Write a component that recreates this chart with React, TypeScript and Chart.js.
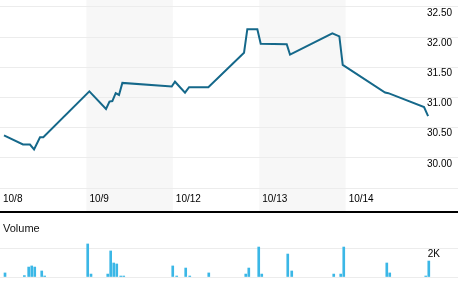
import React, { useEffect, useRef } from "react";
import { Chart, registerables } from "chart.js";

Chart.register(...registerables);

// ---- data ----
const dayLabels = ["10/8", "10/9", "10/12", "10/13", "10/14"];
const dayTicks = [0, 1, 2, 3, 4];
const shadedDays = [1, 3];

// time in trading-day units (day index + fraction of session)
const priceTimes = [
  0.046, 0.266, 0.347, 0.394, 0.463, 0.501, 1.034, 1.227, 1.267, 1.3, 1.339,
  1.377, 1.416, 1.987, 2.025, 2.141, 2.188, 2.411, 2.824, 2.862, 2.978, 3.017,
  3.318, 3.356, 3.846, 3.927, 3.966, 4.456, 4.494, 4.907, 4.954,
];
const priceValues = [
  30.37, 30.22, 30.22, 30.14, 30.34, 30.34, 31.1, 30.81, 30.93, 30.94, 31.07,
  31.04, 31.24, 31.18, 31.26, 31.08, 31.17, 31.17, 31.74, 32.13, 32.13, 31.89,
  31.88, 31.71, 32.06, 32.01, 31.54, 31.08, 31.07, 30.84, 30.69,
];

const volumeTimes = [
  0.058, 0.282, 0.332, 0.367, 0.402, 0.483, 0.517, 1.015, 1.053, 1.247, 1.281,
  1.316, 1.351, 1.397, 1.432, 1.999, 2.045, 2.149, 2.196, 2.416, 2.844, 2.879,
  2.994, 3.029, 3.33, 3.376, 3.862, 3.943, 3.978, 4.476, 4.51, 4.927, 4.962,
];
const volumeValues = [
  290, 100, 710, 790, 710, 430, 70, 2360, 210, 210, 1860, 1000, 930, 70, 70,
  790, 70, 640, 70, 290, 210, 640, 2140, 210, 1640, 430, 210, 210, 2140, 1000,
  290, 70, 1140,
];

const priceTicks = [29.5, 30, 30.5, 31, 31.5, 32, 32.5];
const volumeTicks = [0, 2000];
const volumeTickLabels = ["", "2K"];

const X_MIN = 0;
const X_MAX = 5.3;
const FONT = "'Liberation Sans', Arial, sans-serif";

const bandPlugin = {
  id: "bands",
  beforeDraw(chart: any) {
    const { ctx } = chart;
    const x = chart.scales.x;
    ctx.save();
    ctx.fillStyle = "#f7f7f7";
    shadedDays.forEach((d) => {
      const a = x.getPixelForValue(d);
      const b = x.getPixelForValue(d + 1);
      ctx.fillRect(a, 0, b - a, chart.height);
    });
    ctx.restore();
  },
};

const zeroFit = (s: any) => {
  if (!s.isHorizontal()) s.width = 0;
  s.paddingTop = 0;
  s.paddingBottom = 0;
  s.paddingLeft = 0;
  s.paddingRight = 0;
};

export default function App() {
  const priceRef = useRef<HTMLCanvasElement>(null);
  const volRef = useRef<HTMLCanvasElement>(null);

  useEffect(() => {
    const priceChart = new Chart(priceRef.current!, {
      type: "line",
      data: {
        datasets: [
          {
            data: priceTimes.map((t, i) => ({ x: t, y: priceValues[i] })),
            borderColor: "#15688a",
            borderWidth: 2,
            pointRadius: 0,
            tension: 0,
            fill: false,
          },
        ],
      },
      options: {
        responsive: false,
        animation: false,
        layout: { padding: { top: 0, bottom: 1, left: 0, right: 0 } },
        plugins: { legend: { display: false }, tooltip: { enabled: false } },
        scales: {
          x: {
            type: "linear",
            min: X_MIN,
            max: X_MAX,
            grid: { display: false, drawTicks: false },
            border: { display: false },
            afterBuildTicks: (s: any) => {
              s.ticks = dayTicks.map((v) => ({ value: v }));
            },
            afterFit: zeroFit,
            ticks: {
              callback: (_v: any, i: number) => dayLabels[i],
              align: "start",
              labelOffset: 3,
              padding: 5,
              maxRotation: 0,
              minRotation: 0,
              autoSkip: false,
              color: "#000",
              font: { family: FONT, size: 10 },
            },
          },
          y: {
            type: "linear",
            position: "right",
            min: 29.5,
            max: 32.613,
            grid: { color: "#ececec", drawTicks: false, lineWidth: 1 },
            border: { display: false },
            afterBuildTicks: (s: any) => {
              s.ticks = priceTicks.map((v) => ({ value: v }));
            },
            afterFit: zeroFit,
            ticks: {
              mirror: true,
              padding: -6,
              labelOffset: 6,
              color: "#000",
              font: { family: FONT, size: 10 },
              callback: (v: any) => (Number(v) < 30 ? "" : Number(v).toFixed(2)),
            },
          },
        },
      },
      plugins: [bandPlugin],
    });

    const volChart = new Chart(volRef.current!, {
      type: "bar",
      data: {
        datasets: [
          {
            data: volumeTimes.map((t, i) => ({ x: t, y: volumeValues[i] })),
            backgroundColor: "#3bb7e6",
            barThickness: 2,
          },
        ],
      },
      options: {
        responsive: false,
        animation: false,
        layout: { padding: { top: 26, bottom: 15, left: 0, right: 0 } },
        plugins: { legend: { display: false }, tooltip: { enabled: false } },
        scales: {
          x: {
            type: "linear",
            min: X_MIN,
            max: X_MAX,
            offset: false,
            display: false,
          },
          y: {
            type: "linear",
            position: "right",
            min: 0,
            max: 2714,
            grid: { color: "#ececec", drawTicks: false },
            border: { display: false },
            afterBuildTicks: (s: any) => {
              s.ticks = volumeTicks.map((v) => ({ value: v }));
            },
            afterFit: zeroFit,
            ticks: {
              mirror: true,
              padding: -18,
              labelOffset: 5,
              color: "#000",
              font: { family: FONT, size: 10 },
              callback: (_v: any, i: number) => volumeTickLabels[i],
            },
          },
        },
      },
    });

    return () => {
      priceChart.destroy();
      volChart.destroy();
    };
  }, []);

  return (
    <div style={{ position: "absolute", left: 0, top: 0, width: 458, height: 292, background: "#fff" }}>
      <canvas ref={priceRef} width={458} height={211} style={{ position: "absolute", left: 0, top: 0, width: 458, height: 211 }} />
      <div style={{ position: "absolute", left: 0, top: 211, width: 458, height: 2, background: "#000" }} />
      <canvas ref={volRef} width={458} height={79} style={{ position: "absolute", left: 0, top: 213, width: 458, height: 79 }} />
      <div
        style={{
          position: "absolute",
          left: 3,
          top: 222,
          fontFamily: FONT,
          fontSize: 11,
          lineHeight: "13px",
          color: "#111",
        }}
      >
        Volume
      </div>
    </div>
  );
}
